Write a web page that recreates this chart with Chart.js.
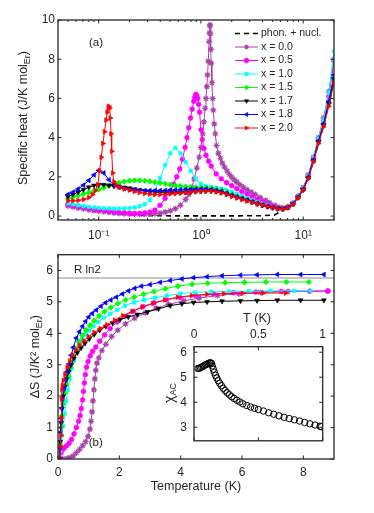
<!DOCTYPE html>
<html><head><meta charset="utf-8">
<script src="https://cdn.jsdelivr.net/npm/chart.js@4.4.1/dist/chart.umd.min.js"></script>
<style>
html,body{margin:0;padding:0;background:#fff;}
#wrap{position:relative;width:374px;height:513px;overflow:hidden;background:#fff;}
canvas{position:absolute;}
</style></head><body>
<div id="wrap">
<canvas id="cA" width="374" height="250" style="left:0px;top:0px"></canvas>
<canvas id="cB" width="374" height="273" style="left:0px;top:240px"></canvas>
<canvas id="cC" width="190" height="155" style="left:150px;top:300px"></canvas>
</div>
<script>
// ---------------- Panel (a): specific heat vs T (log) ----------------
const tempGridA = [0.05,0.056,0.063,0.071,0.08,0.09,0.1,0.112,0.126,0.141,0.158,0.178,0.2,0.224,0.251,0.282,0.316,0.355,0.398,0.447,0.501,0.562,0.631,0.708,0.794,0.891,1.0,1.12,1.26,1.41,1.58,1.78,2.0,2.24,2.51,2.82,3.16,3.55,3.98,4.47,5.01,5.62,6.31,7.08,7.94,8.91,10.0,11.2,12.6,14.1,15.8,17.8,20.0];
const heatA_x17 = [1.0,1.1,1.22,1.35,1.47,1.56,1.6,1.6,1.57,1.53,1.5,1.46,1.42,1.37,1.32,1.28,1.25,1.22,1.2,1.19,1.19,1.19,1.2,1.22,1.24,1.26,1.27,1.28,1.28,1.25,1.2,1.12,1.03,0.95,0.88,0.8,0.72,0.63,0.56,0.49,0.43,0.38,0.37,0.44,0.62,0.95,1.35,1.95,2.85,3.8,4.65,5.75,7.0];
const heatA_x18 = [1.1,1.22,1.38,1.58,1.82,2.1,2.33,2.2,1.85,1.6,1.47,1.4,1.36,1.33,1.31,1.3,1.3,1.3,1.3,1.31,1.32,1.33,1.34,1.36,1.37,1.38,1.38,1.38,1.36,1.32,1.26,1.17,1.07,0.98,0.9,0.82,0.73,0.64,0.57,0.5,0.44,0.39,0.37,0.45,0.63,0.97,1.38,1.98,2.85,3.82,4.7,5.85,7.2];
const heatA_x15 = [0.9,0.97,1.05,1.12,1.2,1.28,1.36,1.45,1.55,1.63,1.7,1.76,1.8,1.82,1.82,1.8,1.77,1.73,1.69,1.65,1.6,1.56,1.53,1.5,1.48,1.47,1.46,1.45,1.42,1.37,1.3,1.2,1.1,1.0,0.91,0.82,0.74,0.65,0.57,0.5,0.44,0.39,0.37,0.44,0.62,0.95,1.35,1.95,2.82,3.78,4.65,5.75,7.05];
const heatA_x10 = [0.65,0.6,0.55,0.5,0.47,0.44,0.42,0.4,0.39,0.38,0.38,0.39,0.41,0.44,0.5,0.6,0.82,1.3,1.95,2.6,3.2,3.48,3.2,2.75,2.3,1.9,1.65,1.52,1.47,1.44,1.4,1.33,1.25,1.14,1.03,0.92,0.82,0.72,0.63,0.55,0.47,0.41,0.38,0.45,0.64,1.0,1.42,2.05,2.95,3.95,4.9,6.3,8.4];
const tempA_x05 = [0.05,0.056,0.063,0.071,0.08,0.09,0.1,0.112,0.126,0.141,0.158,0.178,0.2,0.224,0.251,0.282,0.316,0.355,0.398,0.447,0.501,0.54,0.58,0.62,0.66,0.7,0.73,0.76,0.79,0.82,0.85,0.87,0.89,0.91,0.93,0.95,0.97,1.0,1.03,1.07,1.12,1.19,1.26,1.41,1.58,1.78,2.0,2.24,2.51,2.82,3.16,3.55,3.98,4.47,5.01,5.62,6.31,7.08,7.94,8.91,10.0,11.2,12.6,14.1,15.8,17.8,20.0];
const heatA_x05 = [0.6,0.55,0.5,0.45,0.4,0.37,0.34,0.3,0.26,0.23,0.2,0.17,0.15,0.14,0.14,0.16,0.2,0.3,0.55,0.9,1.28,1.62,2.0,2.4,2.9,3.5,4.0,4.5,5.0,5.45,5.85,6.05,6.2,6.15,6.0,5.7,5.3,4.4,3.9,3.45,3.1,2.8,2.55,2.15,1.9,1.7,1.55,1.4,1.25,1.12,0.98,0.85,0.73,0.62,0.53,0.45,0.4,0.46,0.65,1.0,1.42,2.05,2.95,3.9,4.85,6.1,7.9];
const tempA_x00 = [0.05,0.056,0.063,0.071,0.08,0.09,0.1,0.112,0.126,0.141,0.158,0.178,0.2,0.224,0.251,0.282,0.316,0.355,0.398,0.447,0.501,0.562,0.631,0.708,0.76,0.81,0.86,0.91,0.96,1.0,1.04,1.07,1.1,1.12,1.14,1.16,1.18,1.2,1.21,1.22,1.23,1.24,1.25,1.26,1.28,1.3,1.32,1.35,1.38,1.42,1.48,1.55,1.62,1.7,1.8,1.9,2.0,2.12,2.24,2.4,2.6,2.82,3.1,3.4,3.8,4.3,4.7,5.3,5.9,6.31,7.08,7.94,8.91,10.0,11.2,12.6,14.1,15.8,17.8,20.0];
const heatA_x00 = [0.52,0.47,0.42,0.37,0.32,0.28,0.25,0.22,0.19,0.16,0.14,0.12,0.11,0.1,0.09,0.09,0.1,0.12,0.15,0.2,0.27,0.38,0.55,0.85,1.1,1.45,1.9,2.45,3.0,3.5,4.2,4.8,5.5,6.0,6.6,7.2,7.9,8.9,9.35,9.7,9.75,9.3,8.5,7.8,6.8,6.0,5.4,4.7,4.2,3.6,3.2,2.95,2.7,2.5,2.3,2.12,1.98,1.85,1.73,1.6,1.47,1.35,1.22,1.1,0.95,0.8,0.68,0.54,0.44,0.4,0.47,0.66,1.02,1.45,2.1,3.0,4.0,5.0,6.35,8.0];
const tempA_x20 = [0.05,0.056,0.063,0.071,0.08,0.087,0.093,0.098,0.102,0.106,0.11,0.114,0.118,0.121,0.124,0.126,0.128,0.13,0.132,0.134,0.137,0.141,0.147,0.158,0.178,0.2,0.224,0.251,0.282,0.316,0.355,0.398,0.447,0.501,0.562,0.631,0.708,0.794,0.891,1.0,1.12,1.26,1.41,1.58,1.78,2.0,2.24,2.51,2.82,3.16,3.55,3.98,4.47,5.01,5.62,6.31,7.08,7.94,8.91,10.0,11.2,12.6,14.1,15.8,17.8,20.0];
const heatA_x20 = [0.78,0.78,0.8,0.85,0.95,1.1,1.3,1.6,2.3,3.0,3.7,4.3,4.9,5.3,5.55,5.6,5.5,5.0,4.2,3.3,2.2,1.75,1.6,1.48,1.38,1.32,1.25,1.2,1.15,1.12,1.1,1.1,1.11,1.13,1.15,1.17,1.2,1.22,1.24,1.26,1.27,1.27,1.24,1.18,1.1,1.01,0.93,0.85,0.77,0.7,0.62,0.55,0.48,0.43,0.38,0.36,0.43,0.6,0.92,1.32,1.9,2.75,3.7,4.55,5.6,6.8];
const tempA_phon = [0.05,0.07,0.1,0.15,0.2,0.3,0.5,1,2,4,5.2,6.2,7.5,8.9,10.4,12.0,13.8,15.9,18.2,20];
const heatA_phon = [0.57,0.4,0.26,0.13,0.07,0.03,0.01,0.01,0.01,0.02,0.05,0.27,0.5,0.98,1.6,2.45,3.55,4.65,6.0,7.0];
const tickA_x = [0.04,0.05,0.06,0.07,0.08,0.09,0.1,0.2,0.3,0.4,0.5,0.6,0.7,0.8,0.9,1,2,3,4,5,6,7,8,9,10,20];
const majorA_x = [0.1,1,10];
const tickA_xLabels = ['10\u207B\u00B9','10\u2070','10\u00B9'];
const tickA_y = [0,2,4,6,8,10];

// ---------------- Panel (b): entropy vs T (linear) ----------------
const tempB_x18 = [0.05,0.06,0.08,0.1,0.12,0.15,0.2,0.25,0.3,0.36,0.43,0.5,0.6,0.7,0.8,0.9,1.0,1.12,1.25,1.4,1.55,1.72,1.9,2.1,2.3,2.5,2.72,3.0,3.33,3.66,4.04,4.42,4.86,5.35,5.95,6.49,7.15,7.91,8.67];
const entB_x18 = [0,0.35,0.85,1.3,1.62,1.92,2.25,2.52,2.78,3.02,3.3,3.55,3.85,4.05,4.22,4.38,4.52,4.63,4.74,4.86,4.97,5.06,5.15,5.25,5.35,5.43,5.5,5.55,5.62,5.68,5.73,5.77,5.8,5.83,5.85,5.86,5.87,5.87,5.87];
const tempB_x15 = [0.05,0.07,0.1,0.13,0.17,0.22,0.28,0.34,0.41,0.49,0.58,0.68,0.79,0.91,1.04,1.18,1.34,1.52,1.72,1.95,2.2,2.48,2.79,3.13,3.5,3.91,4.37,4.88,5.45,6.08,6.78,7.45,8.18];
const entB_x15 = [0,0.45,1.0,1.38,1.75,2.1,2.38,2.62,2.9,3.22,3.5,3.73,3.93,4.1,4.25,4.4,4.55,4.69,4.82,4.95,5.06,5.15,5.24,5.33,5.42,5.5,5.56,5.59,5.61,5.62,5.63,5.63,5.63];
const tempB_x17 = [0.05,0.07,0.1,0.13,0.17,0.22,0.28,0.35,0.43,0.52,0.63,0.75,0.88,1.02,1.18,1.36,1.56,1.78,2.02,2.29,2.59,2.92,3.28,3.66,4.04,4.42,4.86,5.35,5.95,6.49,7.15,7.91,8.67];
const entB_x17 = [0,0.55,1.15,1.6,2.0,2.3,2.55,2.78,3.0,3.2,3.38,3.53,3.68,3.82,3.96,4.1,4.22,4.33,4.43,4.52,4.6,4.68,4.78,4.88,4.94,4.98,5.0,5.02,5.03,5.04,5.05,5.05,5.05];
const tempB_x20 = [0.05,0.08,0.1,0.11,0.12,0.13,0.15,0.18,0.23,0.3,0.38,0.47,0.58,0.7,0.84,1.0,1.18,1.38,1.6,1.85,2.12,2.42,2.75,3.1,3.48,3.9,4.36,4.86,5.41,6.02,6.69,7.42];
const entB_x20 = [0,0.4,0.75,1.3,1.9,2.2,2.35,2.5,2.7,2.92,3.12,3.3,3.47,3.62,3.76,3.9,4.03,4.15,4.27,4.42,4.56,4.7,4.83,4.95,5.06,5.15,5.2,5.24,5.26,5.27,5.28,5.28];
const tempB_x10 = [0.05,0.07,0.1,0.13,0.17,0.22,0.27,0.32,0.38,0.45,0.52,0.6,0.69,0.79,0.9,1.02,1.16,1.32,1.5,1.7,1.93,2.19,2.48,2.8,3.16,3.55,3.99,4.47,5.0,5.58,6.22,6.93,7.7,8.24];
const entB_x10 = [0,0.25,0.5,0.75,1.05,1.45,1.85,2.2,2.55,2.88,3.12,3.4,3.6,3.8,3.95,4.08,4.22,4.36,4.5,4.62,4.75,4.88,4.98,5.06,5.13,5.2,5.26,5.3,5.32,5.33,5.34,5.35,5.35,5.35];
const tempB_x05 = [0.05,0.1,0.15,0.2,0.28,0.36,0.44,0.52,0.6,0.67,0.72,0.76,0.8,0.83,0.86,0.89,0.93,0.98,1.05,1.13,1.23,1.36,1.52,1.7,1.92,2.17,2.45,2.77,3.13,3.53,3.98,4.49,5.07,5.72,6.45,7.28,8.21,8.8];
const entB_x05 = [0,0.2,0.3,0.35,0.42,0.5,0.62,0.8,1.0,1.2,1.38,1.6,1.88,2.15,2.42,2.68,2.92,3.1,3.28,3.42,3.56,3.75,3.95,4.15,4.36,4.54,4.7,4.85,4.97,5.07,5.14,5.2,5.25,5.29,5.31,5.33,5.34,5.34];
const tempB_x00 = [0.05,0.15,0.3,0.4,0.5,0.6,0.7,0.8,0.9,0.98,1.04,1.08,1.11,1.14,1.17,1.2,1.23,1.27,1.33,1.43,1.56,1.75,1.95,2.2,2.5,2.85,3.2,3.6,4.1,4.6,5.2,5.9,6.6,7.5,8.8];
const entB_x00 = [0,0.01,0.02,0.05,0.1,0.2,0.3,0.42,0.55,0.72,0.95,1.2,1.5,1.85,2.2,2.55,2.82,3.05,3.22,3.45,3.65,3.9,4.1,4.3,4.48,4.65,4.8,4.92,5.03,5.12,5.2,5.26,5.3,5.33,5.35];
const tempB_rln2 = [0, 9];
const entB_rln2 = [5.76, 5.76];
const tickB_x = [0,2,4,6,8];
const tickB_y = [0,1,2,3,4,5,6];

// ---------------- Inset: chi_AC vs T ----------------
const tempC = [0.03,0.04,0.05,0.06,0.07,0.08,0.09,0.1,0.11,0.12,0.128,0.135,0.142,0.15,0.158,0.167,0.177,0.188,0.2,0.213,0.227,0.242,0.258,0.275,0.293,0.312,0.333,0.356,0.38,0.41,0.44,0.47,0.5,0.54,0.58,0.62,0.66,0.7,0.74,0.78,0.82,0.86,0.9,0.94,0.98,0.99];
const chiC = [5.35,5.36,5.38,5.41,5.44,5.47,5.5,5.52,5.55,5.57,5.58,5.55,5.45,5.32,5.2,5.08,4.97,4.86,4.76,4.66,4.56,4.47,4.38,4.3,4.22,4.15,4.08,4.01,3.94,3.87,3.81,3.76,3.71,3.65,3.58,3.52,3.46,3.4,3.35,3.3,3.25,3.19,3.14,3.09,3.04,3.02];
const tickC_x = [0,0.5,1];
const tickC_y = [3,4,5,6];

// ---------------- helpers ----------------
const FONT = "'Liberation Sans', Arial, Helvetica, sans-serif";
const INK = '#262626';
const pts = (t, v) => t.map((x, i) => ({x: x, y: v[i]}));

const seriesStyle = [
  {label:'x = 0.0', color:'#AA44AA', style:'star', rot:0, r:3, order:6},
  {label:'x = 0.5', color:'#FF00FF', style:'circle', rot:0, r:2.4, order:5},
  {label:'x = 1.0', color:'#00FFFF', style:'rect', rot:0, r:2.4, order:4},
  {label:'x = 1.5', color:'#00FF00', style:'rectRot', rot:0, r:2.8, order:3},
  {label:'x = 1.7', color:'#000000', style:'triangle', rot:180, r:2.8, order:2},
  {label:'x = 1.8', color:'#0000FF', style:'triangle', rot:-90, r:2.8, order:1},
  {label:'x = 2.0', color:'#FF0000', style:'triangle', rot:90, r:2.8, order:0}
];
function mk(st, data) {
  return {label: st.label, data: data, showLine: true, borderColor: st.color, backgroundColor: st.color,
    borderWidth: 1, pointStyle: st.style, pointRotation: st.rot, pointRadius: st.r,
    pointBackgroundColor: st.color, pointBorderColor: st.color, pointBorderWidth: st.style === 'star' ? 1.2 : 0.6,
    order: st.order, tension: 0, fill: false};
}

function drawRich(ctx, item) {
  let w = 0;
  item.parts.forEach(p => { ctx.font = p.s + 'px ' + FONT; p.w = ctx.measureText(p.t).width; w += p.w; });
  ctx.save();
  ctx.translate(item.x, item.y);
  if (item.rot) ctx.rotate(item.rot * Math.PI / 180);
  let x0 = item.align === 'left' ? 0 : -w / 2;
  ctx.textBaseline = 'middle'; ctx.textAlign = 'left'; ctx.fillStyle = INK;
  item.parts.forEach(p => { ctx.font = p.s + 'px ' + FONT; ctx.fillText(p.t, x0, p.dy || 0); x0 += p.w; });
  ctx.restore();
}

const decoCfg = {};
const deco = {
  id: 'deco',
  beforeDatasetsDraw(chart) {
    const c = decoCfg[chart.canvas.id]; const a = chart.chartArea; const ctx = chart.ctx;
    if (c.fill) { ctx.save(); ctx.fillStyle = '#fff'; ctx.fillRect(a.left, a.top, a.right - a.left, a.bottom - a.top); ctx.restore(); }
  },
  afterDatasetsDraw(chart) {
    const c = decoCfg[chart.canvas.id]; const a = chart.chartArea; const ctx = chart.ctx;
    const xs = chart.scales.x, ys = chart.scales.y;
    ctx.save();
    ctx.strokeStyle = INK; ctx.lineWidth = 1;
    ctx.beginPath();
    xs.ticks.forEach(t => {
      const p = xs.getPixelForValue(t.value);
      const L = (c.majorX && !c.majorX.includes(t.value)) ? 2 : 3.5;
      ctx.moveTo(p, a.bottom); ctx.lineTo(p, a.bottom - L);
      ctx.moveTo(p, a.top); ctx.lineTo(p, a.top + L);
    });
    ys.ticks.forEach(t => {
      const p = ys.getPixelForValue(t.value);
      ctx.moveTo(a.left, p); ctx.lineTo(a.left + 3.5, p);
      ctx.moveTo(a.right, p); ctx.lineTo(a.right - 3.5, p);
    });
    ctx.stroke();
    ctx.lineWidth = 1.3;
    ctx.strokeRect(a.left, a.top, a.right - a.left, a.bottom - a.top);
    (c.texts || []).forEach(t => drawRich(ctx, t));
    if (c.legend) {
      const L = c.legend;
      L.items.forEach((idx, i) => {
        const ds = chart.data.datasets[idx];
        const y = L.y0 + i * L.dy;
        ctx.save();
        ctx.strokeStyle = ds.borderColor; ctx.lineWidth = ds.borderWidth;
        ctx.setLineDash(ds.borderDash || []);
        ctx.beginPath(); ctx.moveTo(L.x0, y); ctx.lineTo(L.x1, y); ctx.stroke();
        ctx.setLineDash([]);
        if (ds.pointRadius > 0) {
          ctx.fillStyle = ds.pointBackgroundColor; ctx.strokeStyle = ds.pointBorderColor; ctx.lineWidth = ds.pointBorderWidth;
          Chart.helpers.drawPoint(ctx, {pointStyle: ds.pointStyle, rotation: ds.pointRotation || 0, radius: 2.4, borderWidth: ds.pointBorderWidth}, (L.x0 + L.x1) / 2, y);
        }
        ctx.restore();
        ctx.fillStyle = INK; ctx.font = '10.5px ' + FONT; ctx.textBaseline = 'middle'; ctx.textAlign = 'left';
        ctx.fillText(ds.label, L.tx, y);
      });
    }
    ctx.restore();
  }
};

function axis(type, min, max, tickVals, opts) {
  return {
    type: type, min: min, max: max, position: opts.position,
    grid: {display: false, drawTicks: false}, border: {display: false},
    afterBuildTicks: s => { s.ticks = tickVals.map(v => ({value: v})); },
    afterFit: s => { if (opts.w !== undefined) s.width = opts.w; if (opts.h !== undefined) s.height = opts.h; },
    ticks: {autoSkip: false, maxRotation: 0, minRotation: 0, padding: opts.pad, color: INK,
      font: {size: 12, family: FONT}, callback: opts.cb || (v => String(v))}
  };
}
const baseOpts = {responsive: false, animation: false, devicePixelRatio: 1,
  plugins: {legend: {display: false}, tooltip: {enabled: false}}};

// ---------- chart A ----------
const dsA = [
  {label: 'phon. + nucl.', data: pts(tempA_phon, heatA_phon), showLine: true, borderColor: '#000000', borderWidth: 1.6,
   borderDash: [5, 4], pointRadius: 0, order: 7, fill: false},
  mk(seriesStyle[0], pts(tempA_x00, heatA_x00)),
  mk(seriesStyle[1], pts(tempA_x05, heatA_x05)),
  mk(seriesStyle[2], pts(tempGridA, heatA_x10)),
  mk(seriesStyle[3], pts(tempGridA, heatA_x15)),
  mk(seriesStyle[4], pts(tempGridA, heatA_x17)),
  mk(seriesStyle[5], pts(tempGridA, heatA_x18)),
  mk(seriesStyle[6], pts(tempA_x20, heatA_x20))
];
decoCfg.cA = {
  majorX: majorA_x,
  texts: [
    {x: 24, y: 118, rot: -90, parts: [{t: 'Specific heat (J/K mol', s: 12.5}, {t: 'Er', s: 9, dy: 4}, {t: ')', s: 12.5}]},
    {x: 96, y: 42.7, parts: [{t: '(a)', s: 11.5}]}
  ],
  legend: {x0: 235, x1: 258, tx: 261, y0: 33.5, dy: 13.5, items: [0, 1, 2, 3, 4, 5, 6, 7]}
};
new Chart(document.getElementById('cA'), {
  type: 'scatter', data: {datasets: dsA}, plugins: [deco],
  options: Object.assign({}, baseOpts, {
    layout: {padding: {top: 20, right: 40, bottom: 10, left: 0}},
    scales: {
      x: axis('logarithmic', 0.04, 20, tickA_x, {position: 'bottom', h: 20, pad: 8,
        cb: v => { const k = majorA_x.indexOf(v); return k >= 0 ? tickA_xLabels[k] : ''; }}),
      y: axis('linear', -0.2, 10, tickA_y, {position: 'left', w: 58, pad: 3})
    }
  })
});

// ---------- chart B ----------
const dsB = [
  {label: 'R ln2', data: pts(tempB_rln2, entB_rln2), showLine: true, borderColor: '#B3B3B3', borderWidth: 1.6,
   pointRadius: 0, order: 9, fill: false},
  mk(seriesStyle[0], pts(tempB_x00, entB_x00)),
  mk(seriesStyle[1], pts(tempB_x05, entB_x05)),
  mk(seriesStyle[2], pts(tempB_x10, entB_x10)),
  mk(seriesStyle[3], pts(tempB_x15, entB_x15)),
  mk(seriesStyle[4], pts(tempB_x17, entB_x17)),
  mk(seriesStyle[5], pts(tempB_x18, entB_x18)),
  mk(seriesStyle[6], pts(tempB_x20, entB_x20))
];
decoCfg.cB = {
  texts: [
    {x: 36, y: 116.7, rot: -90, parts: [{t: '\u0394S (J/K\u00B2 mol', s: 12.5}, {t: 'Er', s: 9, dy: 4}, {t: ')', s: 12.5}]},
    {x: 196, y: 247, parts: [{t: 'Temperature (K)', s: 12.5}]},
    {x: 95.7, y: 203.3, parts: [{t: '(b)', s: 11.5}]},
    {x: 74, y: 30, align: 'left', parts: [{t: 'R ln2', s: 11.5}]}
  ]
};
new Chart(document.getElementById('cB'), {
  type: 'scatter', data: {datasets: dsB}, plugins: [deco],
  options: Object.assign({}, baseOpts, {
    layout: {padding: {top: 14.7, right: 40, bottom: 0, left: 0}},
    scales: {
      x: axis('linear', 0, 9, tickB_x, {position: 'bottom', h: 54, pad: 6}),
      y: axis('linear', 0, 6.5, tickB_y, {position: 'left', w: 58, pad: 5})
    }
  })
});

// ---------- chart C (inset) ----------
const dsC = [
  {label: 'chi', data: pts(tempC, chiC), showLine: false, pointStyle: 'circle', pointRadius: 3.2,
   pointBorderWidth: 1, pointBorderColor: '#000000', pointBackgroundColor: 'rgba(0,0,0,0)', borderColor: '#000000'}
];
decoCfg.cC = {
  fill: true,
  texts: [
    {x: 107, y: 19, parts: [{t: 'T (K)', s: 12.5}]},
    {x: 20, y: 93, rot: -90, parts: [{t: '\u03C7', s: 14}, {t: 'AC', s: 9, dy: 4}]}
  ]
};
new Chart(document.getElementById('cC'), {
  type: 'scatter', data: {datasets: dsC}, plugins: [deco],
  options: Object.assign({}, baseOpts, {
    layout: {padding: {top: 0, right: 17.3, bottom: 7, left: 0}},
    scales: {
      x: axis('linear', 0, 1, tickC_x, {position: 'top', h: 46.7, pad: 5}),
      y: axis('linear', 2.46, 6.22, tickC_y, {position: 'left', w: 44, pad: 7})
    }
  })
});
</script>
</body></html>
